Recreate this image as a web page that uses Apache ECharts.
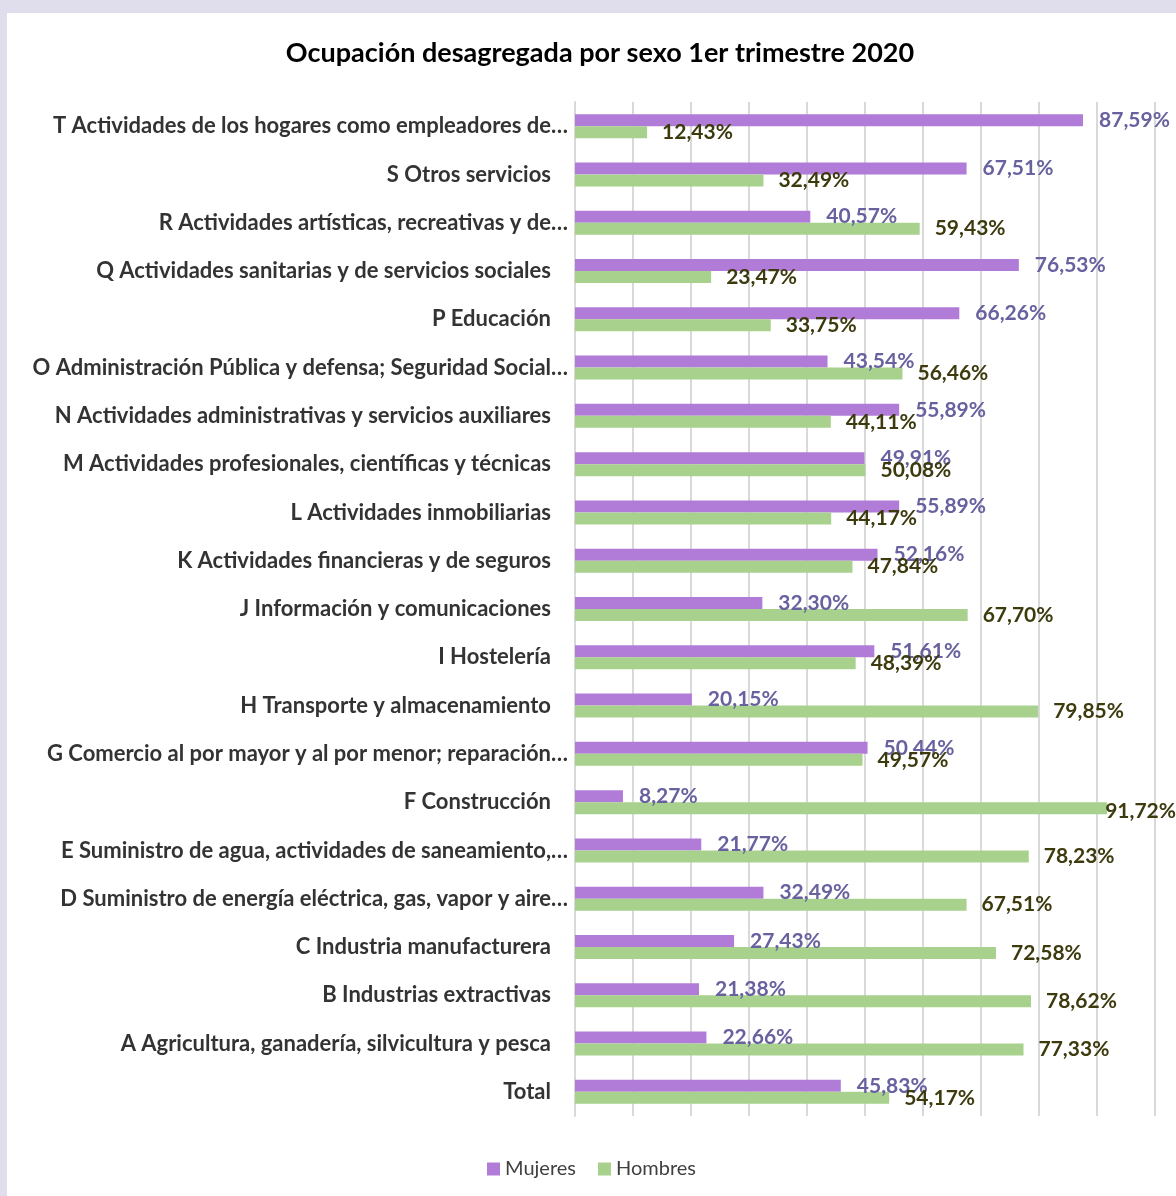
<!DOCTYPE html>
<html>
<head>
<meta charset="utf-8">
<script src="https://cdn.jsdelivr.net/npm/echarts@6/dist/echarts.min.js"></script>
<style>
  html, body { margin: 0; padding: 0; background: #e0dded; }
  #main {
    position: absolute;
    left: 7px;
    top: 13px;
    width: 1169px;
    height: 1183px;
    background: #ffffff;
  }
</style>
</head>
<body>
<div id="main"></div>
<script>
// categorías de arriba a abajo
var sectores = [
  "T Actividades de los hogares como empleadores de…",
  "S Otros servicios",
  "R Actividades artísticas, recreativas y de…",
  "Q Actividades sanitarias y de servicios sociales",
  "P Educación",
  "O Administración Pública y defensa; Seguridad Social…",
  "N Actividades administrativas y servicios auxiliares",
  "M Actividades profesionales, científicas y técnicas",
  "L Actividades inmobiliarias",
  "K Actividades financieras y de seguros",
  "J Información y comunicaciones",
  "I Hostelería",
  "H Transporte y almacenamiento",
  "G Comercio al por mayor y al por menor; reparación…",
  "F Construcción",
  "E Suministro de agua, actividades de saneamiento,…",
  "D Suministro de energía eléctrica, gas, vapor y aire…",
  "C Industria manufacturera",
  "B Industrias extractivas",
  "A Agricultura, ganadería, silvicultura y pesca",
  "Total"
];
var mujeres = [87.59, 67.51, 40.57, 76.53, 66.26, 43.54, 55.89, 49.91, 55.89, 52.16,
  32.30, 51.61, 20.15, 50.44, 8.27, 21.77, 32.49, 27.43, 21.38, 22.66, 45.83];
var hombres = [12.43, 32.49, 59.43, 23.47, 33.75, 56.46, 44.11, 50.08, 44.17, 47.84,
  67.70, 48.39, 79.85, 49.57, 91.72, 78.23, 67.51, 72.58, 78.62, 77.33, 54.17];

var fuente = "Lato";
var anchoChart = 1169;

function pct(p) {
  return p.value.toFixed(2).replace(".", ",") + "%";
}

// mantener las etiquetas dentro del gráfico
function dentro(params) {
  var r = params.labelRect;
  if (r.x + r.width > anchoChart) {
    return {
      x: anchoChart - r.width,
      y: r.y + r.height / 2,
      align: "left",
      verticalAlign: "middle"
    };
  }
  return {};
}

var myChart = echarts.init(document.getElementById("main"));
var option = {
  textStyle: { fontFamily: fuente },
  title: {
    text: "Ocupación desagregada por sexo 1er trimestre 2020",
    left: 595 - 7,
    textAlign: "center",
    top: 22,
    textStyle: { fontFamily: fuente, fontSize: 27, fontWeight: "bold", color: "#000000" }
  },
  legend: {
    data: ["Mujeres", "Hombres"],
    top: 1141,
    left: "center",
    icon: "rect",
    itemWidth: 13,
    itemHeight: 13,
    itemGap: 22,
    textStyle: { fontFamily: fuente, fontSize: 20, color: "#404040" }
  },
  grid: { left: 568, right: 21, top: 89, bottom: 80, containLabel: false },
  xAxis: {
    type: "value",
    min: 0,
    max: 100,
    interval: 10,
    axisLabel: { show: false },
    axisLine: { show: false },
    axisTick: { show: false },
    splitLine: { show: true, lineStyle: { color: "#d9d9d9", width: 2 } }
  },
  yAxis: {
    type: "category",
    inverse: true,
    data: sectores,
    axisLine: { show: true, lineStyle: { color: "#d9d9d9", width: 2 } },
    axisTick: { show: false },
    axisLabel: {
      margin: 7,
      fontFamily: fuente,
      fontSize: 22,
      fontWeight: "bold",
      color: "#333333",
      formatter: function (v) {
        return v.slice(-1) === "…" ? v : "{p|" + v + "}";
      },
      rich: {
        p: { padding: [0, 17, 0, 0], fontFamily: fuente, fontSize: 22, fontWeight: "bold", color: "#333333" }
      }
    }
  },
  series: [
    {
      name: "Mujeres",
      type: "bar",
      data: mujeres,
      barWidth: 12,
      barGap: "0%",
      itemStyle: { color: "#b07cd8" },
      labelLayout: dentro,
      label: {
        show: true,
        position: "right",
        distance: 16,
        offset: [0, 1],
        formatter: pct,
        fontFamily: fuente,
        fontSize: 21,
        fontWeight: "bold",
        color: "#67619f"
      }
    },
    {
      name: "Hombres",
      type: "bar",
      data: hombres,
      barWidth: 12,
      itemStyle: { color: "#a9d18e" },
      labelLayout: dentro,
      label: {
        show: true,
        position: "right",
        distance: 15,
        offset: [0, 3],
        formatter: pct,
        fontFamily: fuente,
        fontSize: 21,
        fontWeight: "bold",
        color: "#3d3b0e"
      }
    }
  ]
};
option && myChart.setOption(option);
</script>
</body>
</html>
